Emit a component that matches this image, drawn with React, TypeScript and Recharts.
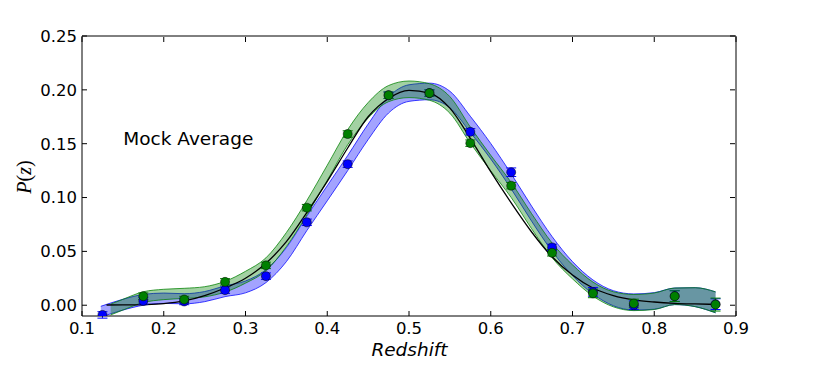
import React from 'react';
import { ComposedChart, Area, Line, Scatter, ErrorBar, XAxis, YAxis } from 'recharts';

// Blue fit band (shaded)
const blueBandX = [0.123, 0.15, 0.175, 0.2, 0.225, 0.25, 0.275, 0.3, 0.325, 0.35, 0.375, 0.4, 0.425, 0.45, 0.475, 0.5, 0.525, 0.55, 0.575, 0.6, 0.625, 0.65, 0.675, 0.7, 0.725, 0.75, 0.775, 0.8, 0.825, 0.85, 0.875];
const blueBandLow = [-0.011, -0.0045, 0.0, 0.0017, 0.0013, 0.0033, 0.008, 0.0115, 0.021, 0.0405, 0.0693, 0.097, 0.125, 0.1538, 0.1785, 0.1893, 0.1908, 0.1833, 0.1605, 0.1358, 0.108, 0.078, 0.0502, 0.0275, 0.0105, -0.0005, -0.0045, -0.0037, 0.0006, -0.0013, -0.007];
const blueBandHigh = [-0.001, 0.0055, 0.01, 0.0113, 0.0107, 0.0127, 0.018, 0.0225, 0.033, 0.0535, 0.0827, 0.111, 0.139, 0.1682, 0.1935, 0.2047, 0.2062, 0.1987, 0.1755, 0.1502, 0.122, 0.092, 0.0638, 0.0405, 0.0235, 0.0135, 0.0105, 0.0117, 0.016, 0.0163, 0.0124];

// Green fit band (shaded)
const greenBandX = [0.135, 0.15, 0.175, 0.2, 0.225, 0.25, 0.275, 0.3, 0.325, 0.35, 0.375, 0.4, 0.425, 0.45, 0.475, 0.5, 0.525, 0.55, 0.575, 0.6, 0.625, 0.65, 0.675, 0.7, 0.725, 0.75, 0.775, 0.8, 0.825, 0.85, 0.875];
const greenBandLow = [-0.009, -0.0045, 0.0025, 0.0052, 0.0063, 0.0078, 0.0122, 0.0205, 0.032, 0.0545, 0.0838, 0.116, 0.149, 0.1738, 0.189, 0.1928, 0.1903, 0.1783, 0.1505, 0.1248, 0.1, 0.071, 0.0442, 0.0245, 0.0085, -0.0015, -0.005, -0.004, 0.0006, -0.0013, -0.007];
const greenBandHigh = [0.001, 0.0055, 0.0125, 0.0148, 0.0157, 0.0172, 0.0222, 0.0315, 0.044, 0.0675, 0.0972, 0.13, 0.163, 0.1882, 0.204, 0.2082, 0.2057, 0.1937, 0.1655, 0.1392, 0.114, 0.085, 0.0578, 0.0375, 0.0215, 0.0125, 0.01, 0.0114, 0.016, 0.0163, 0.0124];

// Black true curve
const trueX = [0.13, 0.15, 0.175, 0.2, 0.225, 0.25, 0.275, 0.3, 0.325, 0.35, 0.375, 0.4, 0.425, 0.45, 0.475, 0.5, 0.525, 0.55, 0.575, 0.6, 0.625, 0.65, 0.675, 0.7, 0.725, 0.75, 0.775, 0.8, 0.825, 0.85, 0.875];
const trueY = [0.0002, 0.0003, 0.0006, 0.0015, 0.004, 0.009, 0.016, 0.025, 0.039, 0.059, 0.086, 0.115, 0.146, 0.175, 0.192, 0.1995, 0.197, 0.183, 0.155, 0.124, 0.095, 0.068, 0.045, 0.028, 0.016, 0.009, 0.005, 0.003, 0.0018, 0.0012, 0.0008];

// Binned points with error bars
const bluePtX = [0.125, 0.175, 0.225, 0.275, 0.325, 0.375, 0.425, 0.475, 0.525, 0.575, 0.625, 0.675, 0.725, 0.775, 0.825, 0.875];
const bluePtY = [-0.009, 0.004, 0.0035, 0.014, 0.027, 0.077, 0.131, 0.195, 0.197, 0.161, 0.1235, 0.0537, 0.0124, 0.0, 0.0085, 0.001];
const bluePtErr = [0.003, 0.003, 0.003, 0.003, 0.003, 0.003, 0.003, 0.003, 0.003, 0.003, 0.004, 0.003, 0.004, 0.004, 0.005, 0.005];
const greenPtX = [0.175, 0.225, 0.275, 0.325, 0.375, 0.425, 0.475, 0.525, 0.575, 0.625, 0.675, 0.725, 0.775, 0.825, 0.875];
const greenPtY = [0.0084, 0.0053, 0.0217, 0.037, 0.0906, 0.159, 0.195, 0.197, 0.1505, 0.111, 0.0487, 0.011, 0.0016, 0.0084, 0.0006];
const greenPtErr = [0.003, 0.003, 0.003, 0.003, 0.003, 0.003, 0.003, 0.003, 0.003, 0.003, 0.003, 0.004, 0.004, 0.005, 0.006];

const xTicks = [0.1, 0.2, 0.3, 0.4, 0.5, 0.6, 0.7, 0.8, 0.9];
const yTicks = [0.0, 0.05, 0.1, 0.15, 0.2, 0.25];

const blueBand = blueBandX.map((x, i) => ({ x, range: [blueBandLow[i], blueBandHigh[i]] }));
const greenBand = greenBandX.map((x, i) => ({ x, range: [greenBandLow[i], greenBandHigh[i]] }));
const trueData = trueX.map((x, i) => ({ x, y: trueY[i] }));
const bluePts = bluePtX.map((x, i) => ({ x, y: bluePtY[i], err: bluePtErr[i] }));
const greenPts = greenPtX.map((x, i) => ({ x, y: greenPtY[i], err: greenPtErr[i] }));

const FONT = 'DejaVu Sans';
const TICK_FS = 16.5;

const BottomTick = (props: any) => {
  const { x, y, payload } = props;
  return (
    <g>
      <line x1={x} x2={x} y1={y - 6} y2={y - 11} stroke="#000" strokeWidth={1} />
      <text x={x} y={y} dy="0.71em" textAnchor="middle" fontSize={TICK_FS} fontFamily={FONT} fill="#000">
        {Number(payload.value).toFixed(1)}
      </text>
    </g>
  );
};

const LeftTick = (props: any) => {
  const { x, y, payload } = props;
  return (
    <g>
      <line x1={x + 5} x2={x + 10} y1={y} y2={y} stroke="#000" strokeWidth={1} />
      <text x={x} y={y} dy="0.355em" textAnchor="end" fontSize={TICK_FS} fontFamily={FONT} fill="#000">
        {Number(payload.value).toFixed(2)}
      </text>
    </g>
  );
};

const TopTick = (props: any) => {
  const { x, y } = props;
  return <line x1={x} x2={x} y1={y + 1} y2={y + 6} stroke="#000" strokeWidth={1} />;
};

const RightTick = (props: any) => {
  const { x, y } = props;
  return <line x1={x - 1} x2={x - 6} y1={y} y2={y} stroke="#000" strokeWidth={1} />;
};

export default function App() {
  return (
    <div style={{ position: 'absolute', left: 0, top: 0, width: 817, height: 372, background: '#fff' }}>
      <ComposedChart width={817} height={372} margin={{ top: 35, right: 80, bottom: 0, left: 0 }}>
        <XAxis
          dataKey="x"
          type="number"
          domain={[0.1, 0.9]}
          ticks={xTicks}
          allowDataOverflow
          height={56}
          tickSize={0}
          tickMargin={6}
          tickLine={false}
          tick={<BottomTick />}
          axisLine={{ stroke: '#000', strokeWidth: 1 }}
        />
        <XAxis
          xAxisId="top"
          orientation="top"
          dataKey="x"
          type="number"
          domain={[0.1, 0.9]}
          ticks={xTicks}
          allowDataOverflow
          height={1}
          tickSize={0}
          tickMargin={0}
          tickLine={false}
          tick={<TopTick />}
          axisLine={{ stroke: '#000', strokeWidth: 1 }}
        />
        <YAxis
          type="number"
          domain={[-0.01, 0.25]}
          ticks={yTicks}
          allowDataOverflow
          width={82}
          tickSize={0}
          tickMargin={5}
          tickLine={false}
          tick={<LeftTick />}
          axisLine={{ stroke: '#000', strokeWidth: 1 }}
        />
        <YAxis
          yAxisId="right"
          orientation="right"
          type="number"
          domain={[-0.01, 0.25]}
          ticks={yTicks}
          allowDataOverflow
          width={1}
          tickSize={0}
          tickMargin={0}
          tickLine={false}
          tick={<RightTick />}
          axisLine={{ stroke: '#000', strokeWidth: 1 }}
        />
        <Area
          data={blueBand}
          dataKey="range"
          type="monotone"
          fill="#0000ff"
          fillOpacity={0.36}
          stroke="#0000ff"
          strokeOpacity={0.75}
          strokeWidth={1}
          isAnimationActive={false}
          dot={false}
          activeDot={false}
        />
        <Area
          data={greenBand}
          dataKey="range"
          type="monotone"
          fill="#008000"
          fillOpacity={0.36}
          stroke="#008000"
          strokeOpacity={0.75}
          strokeWidth={1}
          isAnimationActive={false}
          dot={false}
          activeDot={false}
        />
        <Line
          data={trueData}
          dataKey="y"
          type="monotone"
          stroke="#000"
          strokeWidth={1.3}
          dot={false}
          activeDot={false}
          isAnimationActive={false}
        />
        <Scatter data={bluePts} dataKey="y" fill="#0000ff" stroke="#000" strokeWidth={0.5} isAnimationActive={false}>
          <ErrorBar dataKey="err" direction="y" width={5} stroke="#0000ff" strokeWidth={1} />
        </Scatter>
        <Scatter data={greenPts} dataKey="y" fill="#008000" stroke="#000" strokeWidth={0.5} isAnimationActive={false}>
          <ErrorBar dataKey="err" direction="y" width={5} stroke="#008000" strokeWidth={1} />
        </Scatter>
      </ComposedChart>
      <svg width={817} height={372} style={{ position: 'absolute', left: 0, top: 0, pointerEvents: 'none' }}>
        <text x={123.3} y={145.3} fontSize={18.5} fontFamily={FONT} fill="#000">Mock Average</text>
        <text x={409.5} y={355.7} fontSize={18.5} fontFamily={FONT} fontStyle="italic" textAnchor="middle" fill="#000">Redshift</text>
        <text transform="translate(31,177) rotate(-90)" textAnchor="middle" fontSize={20} fontFamily="Liberation Serif" fill="#000">
          <tspan fontStyle="italic">P</tspan>
          <tspan>(</tspan>
          <tspan fontStyle="italic">z</tspan>
          <tspan>)</tspan>
        </text>
      </svg>
    </div>
  );
}
